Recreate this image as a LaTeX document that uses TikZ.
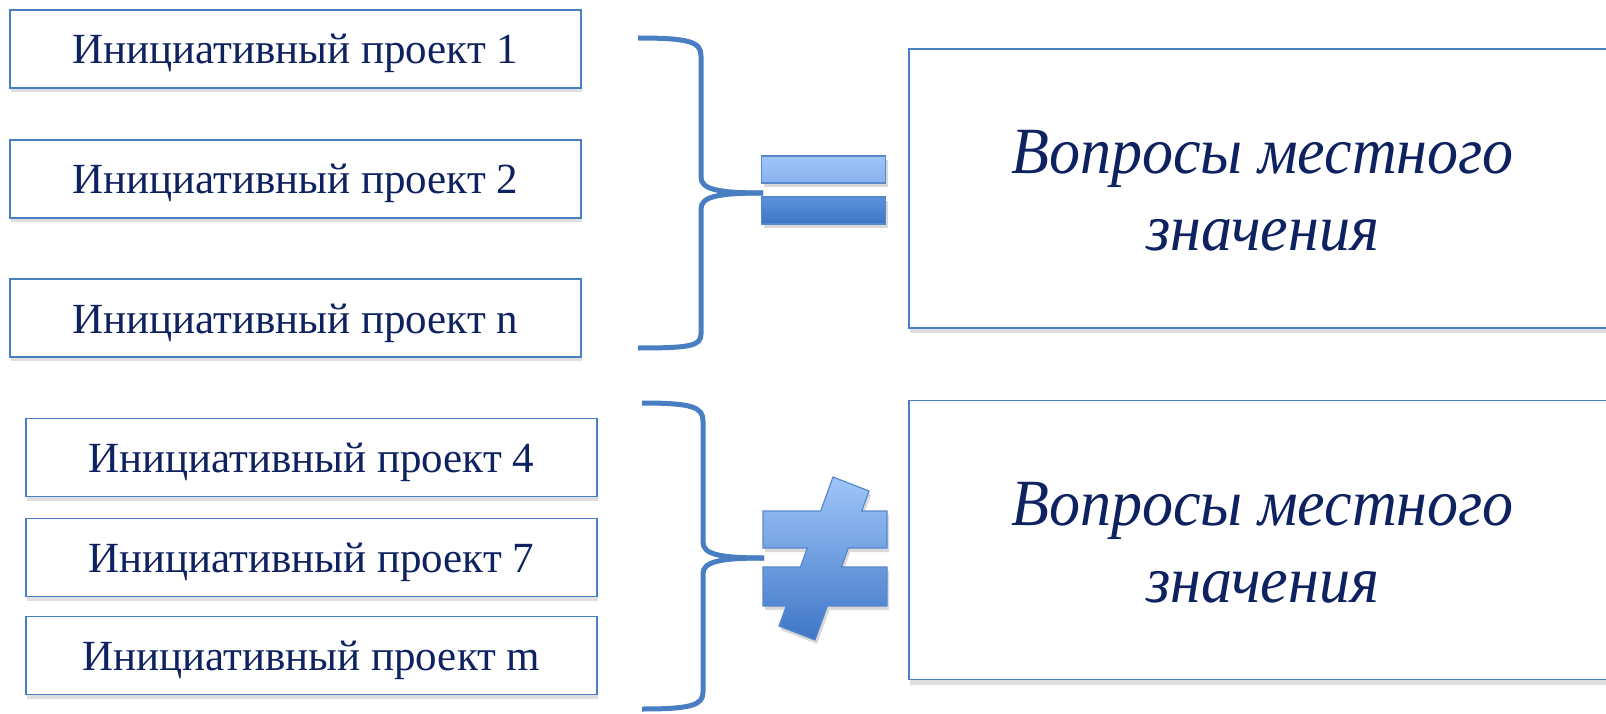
\documentclass[tikz,border=0pt]{standalone}
\usepackage{fontspec}
\setmainfont{Liberation Serif}
\newfontface\vopfont{Liberation Serif Italic}[FakeStretch=0.94]
\usepackage{xcolor}
\usetikzlibrary{shadows}

\definecolor{framblue}{RGB}{74,126,194}
\definecolor{txtnavy}{RGB}{14,33,96}
\definecolor{lightbar}{RGB}{160,198,250}
\definecolor{lightbarb}{RGB}{136,178,236}
\definecolor{darkbar}{RGB}{92,145,219}
\definecolor{darkbarb}{RGB}{62,118,198}
\definecolor{barline}{RGB}{88,136,204}

\tikzset{
    projbox/.style={draw=framblue, line width=1.6pt, fill=white, minimum width=571pt, minimum height=78pt,
        inner sep=0pt, text=txtnavy, font=\fontsize{43}{50}\selectfont, text height=40pt, text depth=10pt,
        drop shadow={opacity=0.25, shadow xshift=1pt, shadow yshift=-4pt}},
    issuebox/.style={draw=framblue, line width=1.6pt, fill=white, minimum width=707pt, minimum height=279pt,
        inner sep=0pt, text=txtnavy, align=center, font=\vopfont\fontsize{66}{77}\selectfont,
        drop shadow={opacity=0.25, shadow xshift=1pt, shadow yshift=-5pt}},
    eqbar/.style={draw=barline, line width=1.2pt, minimum width=124pt, minimum height=27pt, inner sep=0pt,
        drop shadow={opacity=0.3, shadow xshift=2pt, shadow yshift=-4pt}},
    bracket/.style={draw=framblue, line width=5pt}
}

\begin{document}
\begin{tikzpicture}[x=1pt,y=1pt]
            \useasboundingbox (0,0) rectangle (1606,-714);

            \node[projbox] (p1) at (295.5,-49) {Инициативный проект 1};
            \node[projbox] (p2) at (295.5,-179) {Инициативный проект 2};
            \node[projbox] (pn) at (295.5,-318) {Инициативный проект n};

            \node[projbox] (p4) at (311.5,-457.5) {Инициативный проект 4};
            \node[projbox] (p7) at (311.5,-557.5) {Инициативный проект 7};
            \node[projbox] (pm) at (311.5,-655.5) {Инициативный проект m};

            \node[issuebox] (vopr1) at (1262.5,-188.5) {\rule{0pt}{48pt}Вопросы местного\\значения};
            \node[issuebox] (vopr2) at (1262.5,-540) {\rule{0pt}{48pt}Вопросы местного\\значения};

            \coordinate (tip1) at (763,-193);
            \coordinate (tip2) at (764,-558);
            \draw[bracket] (638,-38) .. controls (690,-38) and (701,-42) .. (701,-56) -- (701,-177)
                .. controls (701,-189) and (716,-193) .. (tip1);
            \draw[bracket] (tip1) .. controls (716,-193) and (701,-197) .. (701,-209) -- (701,-334)
                .. controls (701,-346) and (690,-348) .. (638,-348);
            \draw[bracket] (642,-403) .. controls (692,-403) and (703,-407) .. (703,-421) -- (703,-542)
                .. controls (703,-554) and (718,-558) .. (tip2);
            \draw[bracket] (tip2) .. controls (718,-558) and (703,-562) .. (703,-574) -- (703,-692)
                .. controls (703,-705) and (692,-709) .. (642,-709);

            \node[eqbar, top color=lightbar, bottom color=lightbarb] (eqtop) at (823.5,-169.5) {};
            \node[eqbar, top color=darkbar, bottom color=darkbarb] (eqbot) at (823.5,-210.5) {};

            \path[draw=barline, line width=1.2pt, top color=lightbar, bottom color=darkbarb,
                drop shadow={opacity=0.3, shadow xshift=2pt, shadow yshift=-4pt}]
                (833,-477) -- (869,-491) -- (861.75,-511) -- (887,-511) -- (887,-548) -- (848.3,-548)
                -- (841.5,-567) -- (887,-567) -- (887,-606) -- (827.3,-606) -- (815,-640) -- (779,-626)
                -- (786.25,-606) -- (763,-606) -- (763,-567) -- (800.4,-567) -- (807.3,-548) -- (763,-548)
                -- (763,-511) -- (820.7,-511) -- cycle;
        \end{tikzpicture}
\end{document}
